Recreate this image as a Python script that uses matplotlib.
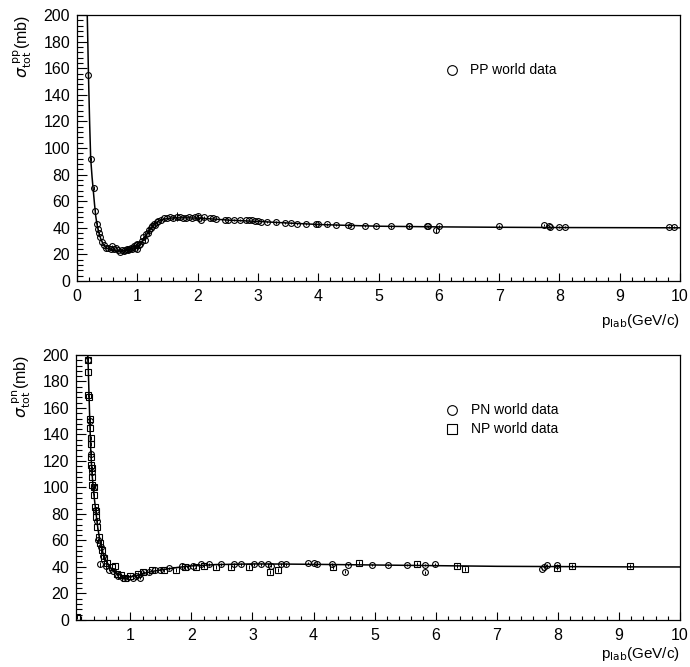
"""Total NN cross sections vs lab momentum: PP (top) and PN/NP (bottom)."""

import matplotlib
matplotlib.use("Agg")
import matplotlib.pyplot as plt
from matplotlib.ticker import MultipleLocator

plt.rcParams["font.family"] = ["Liberation Sans", "DejaVu Sans"]

# ---- PP world data (top panel) ----
pp_p = [0.19, 0.227, 0.285, 0.30, 0.33, 0.345, 0.36, 0.38, 0.42, 0.45, 0.48, 0.52,
        0.56, 0.58, 0.62, 0.65, 0.68, 0.72, 0.75, 0.78, 0.80, 0.83, 0.85, 0.87,
        0.90, 0.92, 0.94, 0.96, 0.98, 1.00, 1.00, 1.02, 1.05, 1.08, 1.10, 1.12,
        1.15, 1.18, 1.20, 1.22, 1.25, 1.27, 1.30, 1.32, 1.35, 1.40, 1.45, 1.50,
        1.55, 1.60, 1.65, 1.70, 1.75, 1.80, 1.85, 1.90, 1.95, 2.00, 2.02, 2.05,
        2.10, 2.20, 2.25, 2.30, 2.45, 2.50, 2.60, 2.70, 2.80, 2.85, 2.90, 2.95,
        3.00, 3.05, 3.15, 3.30, 3.45, 3.55, 3.65, 3.80, 3.97, 4.00, 4.15, 4.30,
        4.50, 4.55, 4.77, 4.95, 5.20, 5.50, 5.51, 5.80, 5.82, 5.96, 6.00, 7.00,
        7.75, 7.83, 7.85, 8.00, 8.10, 9.82, 9.90]
pp_sig = [155, 92, 70, 53, 43, 39, 36, 33, 29, 27, 25, 25,
          24, 26, 24, 25, 23, 22, 23, 22.5, 23, 24, 23, 24,
          25, 24, 26, 25, 27, 24, 28, 27, 28, 30, 33, 31,
          35, 36, 38, 40, 41, 43, 42, 44, 45, 46, 47, 47.5,
          48, 47, 48.5, 48, 47.5, 47, 48, 47.5, 48, 49, 47, 46,
          48, 47, 47, 46.5, 46, 45.5, 46, 46, 45.5, 46, 45.5, 45,
          45, 44.5, 44.5, 44, 43.5, 43.5, 43, 43, 42.5, 43, 42.5, 42,
          42, 41.5, 41.5, 41.5, 41, 41, 41.5, 41.5, 41, 38, 41, 41,
          42, 41, 40.5, 40.5, 40.5, 40.5, 40.3]
pp_err = [1.5, 1.5, 1.5, 1, 1, 1, 1, 1, 1, 1, 1, 1,
          1, 1, 1, 1, 1, 1, 1, 1, 1, 1, 1, 1,
          1, 1, 1.5, 1, 1, 1.5, 1, 1, 1, 1.5, 1, 2,
          1, 1, 3, 1, 1, 1, 1, 1, 1, 1, 1, 1,
          1, 1, 3.5, 1, 1, 1, 1, 1, 1, 1.5, 1, 1,
          1, 1, 0.8, 0.8, 0.8, 0.8, 0.8, 0.8, 0.8, 0.8, 0.8, 0.8,
          0.8, 0.8, 0.8, 0.8, 0.8, 0.8, 0.8, 0.8, 0.8, 0.8, 0.8, 0.8,
          0.8, 0.8, 0.8, 0.8, 0.8, 0.8, 0.8, 0.8, 0.8, 2, 0.8, 0.8,
          0.8, 0.8, 0.8, 0.8, 0.8, 0.8, 0.8]

# fitted curve through PP data
pp_fit_p = [0.17, 0.18, 0.19, 0.21, 0.227, 0.25, 0.27, 0.29, 0.31, 0.33, 0.35,
            0.37, 0.40, 0.43, 0.46, 0.50, 0.55, 0.60, 0.70, 0.80, 0.90, 1.00,
            1.05, 1.10, 1.15, 1.20, 1.25, 1.30, 1.35, 1.40, 1.50, 1.60, 1.80,
            2.00, 2.20, 2.50, 3.00, 3.50, 4.00, 4.50, 5.0, 6.0, 7.0, 8.0, 9.0, 10.0]
pp_fit_sig = [200, 178, 155, 118, 92, 78, 68, 58, 49, 43, 38.5,
              35, 31, 28, 26, 24.5, 23.5, 22.8, 22.5, 23, 24, 26,
              28, 31, 34.5, 38, 41, 43.5, 45, 46, 47, 47.5, 47.5,
              47.3, 46.8, 45.8, 44.8, 43.6, 42.5, 41.8, 41.2, 40.7, 40.4, 40.2, 40.1, 40]

# ---- PN / NP world data (bottom panel) ----
pn_p = [0.31, 0.34, 0.36, 0.38, 0.41, 0.43, 0.45, 0.47, 0.50, 0.52, 0.56, 0.60,
        0.65, 0.72, 0.80, 0.88, 0.95, 1.05, 1.10, 1.16, 1.23, 1.30, 1.41, 1.49,
        1.63, 1.85, 1.93, 2.02, 2.15, 2.29, 2.48, 2.70, 2.81, 3.03, 3.14, 3.25,
        3.30, 3.47, 3.55, 3.91, 4.00, 4.05, 4.30, 4.52, 4.57, 4.96, 5.22, 5.53,
        5.83, 5.83, 5.99, 7.74, 7.77, 7.82, 7.99]
pn_sig = [196, 150, 125, 112, 100, 83, 75, 60, 42, 55, 48, 41,
          38, 37, 33, 32, 32, 32, 33, 32, 36, 36, 38, 38,
          39, 41, 40, 41, 42, 42, 42, 42, 42, 42, 42, 42,
          41, 42, 42, 43, 43, 42, 42, 36.5, 41.5, 41.5, 41.5, 41.5,
          41.5, 36, 42, 38.5, 40, 41.5, 41.5]
pn_err = [3, 3, 3, 3, 3, 2, 2, 2, 2, 5, 2, 4,
          1, 1, 1, 1, 1, 1, 1, 1, 1, 1, 1, 1,
          1, 1, 1, 1, 1, 1, 1, 1, 1, 1, 1, 1,
          1, 1, 1, 1, 1, 1, 1, 1, 1, 1, 1, 1,
          1, 1, 1, 1, 1, 1, 1]

np_p = [0.13, 0.31, 0.31, 0.30, 0.32, 0.34, 0.34, 0.35, 0.35, 0.36, 0.36, 0.37,
        0.37, 0.38, 0.41, 0.41, 0.42, 0.43, 0.44, 0.46, 0.48, 0.50, 0.54, 0.57,
        0.62, 0.70, 0.75, 0.78, 0.85, 0.92, 1.00, 1.12, 1.20, 1.35, 1.55, 1.74,
        1.90, 2.07, 2.21, 2.40, 2.65, 2.95, 3.28, 3.42, 4.32, 4.75, 5.70, 6.35,
        6.48, 7.99, 8.23, 9.18]
np_sig = [2, 196, 187, 170, 168, 152, 145, 137, 133, 123, 117, 115,
          108, 102, 100, 94, 85, 82, 78, 70, 63, 58, 53, 47,
          43, 40, 41, 34.5, 34, 32, 33, 35, 36, 38, 38, 38,
          40, 40, 41, 40, 40, 40, 36, 38, 40, 43, 42, 40.5,
          38.6, 39, 41, 40.5]

pn_fit_p = [0.30, 0.31, 0.33, 0.35, 0.37, 0.40, 0.43, 0.46, 0.50, 0.55, 0.60,
            0.65, 0.70, 0.80, 0.90, 1.00, 1.10, 1.20, 1.40, 1.60, 1.80, 2.00,
            2.40, 3.00, 3.50, 4.00, 5.0, 6.0, 7.0, 8.0, 9.0, 10.0]
pn_fit_sig = [200, 192, 160, 130, 112, 96, 84, 72, 60, 51, 45,
              41, 38, 34.5, 33, 32.5, 33.5, 35, 37, 38.5, 39.8, 40.8,
              41.8, 42.3, 42.2, 42, 41.5, 41, 40.5, 40.3, 40.1, 40]

X_LABEL = r"p$_{\rm lab}$(GeV/c)"


def style_axes(ax, xmin, xlabel_y):
    ax.set_xlim(xmin, 10)
    ax.set_ylim(0, 200)
    ax.xaxis.set_major_locator(MultipleLocator(1))
    ax.xaxis.set_minor_locator(MultipleLocator(0.2))
    ax.yaxis.set_major_locator(MultipleLocator(20))
    ax.yaxis.set_minor_locator(MultipleLocator(4))
    ax.tick_params(axis="both", which="both", direction="in", top=False, right=False,
                   labelsize=11.5, width=0.8)
    ax.tick_params(axis="x", which="major", length=6, pad=6)
    ax.tick_params(axis="x", which="minor", length=3)
    ax.tick_params(axis="y", which="major", length=7, pad=5)
    ax.tick_params(axis="y", which="minor", length=4)
    for sp in ax.spines.values():
        sp.set_linewidth(0.9)
    ax.text(1.0, xlabel_y, X_LABEL, transform=ax.transAxes, ha="right", va="center",
            fontsize=11)


fig = plt.figure(figsize=(6.9, 6.67), dpi=100)
ax1 = fig.add_axes([0.1116, 0.5787, 0.874, 0.3988])
ax2 = fig.add_axes([0.1101, 0.0705, 0.8754, 0.3973])

mk = dict(fillstyle="none", color="black", markersize=4.2, markeredgewidth=0.8,
          linestyle="none", elinewidth=0.7, capsize=0)

# top panel
ax1.plot(pp_fit_p, pp_fit_sig, color="black", lw=1.1)
ax1.errorbar(pp_p, pp_sig, yerr=pp_err, marker="o", **mk)
style_axes(ax1, 0, -0.15)
ax1.text(-0.09, 1.0, r"$\sigma_{\rm tot}^{\rm \ pp}$(mb)", transform=ax1.transAxes,
         rotation=90, ha="center", va="top", fontsize=11.5)
ax1.plot([6.22], [159], marker="o", fillstyle="none", color="black",
         markersize=7, markeredgewidth=0.8, linestyle="none")
ax1.text(6.52, 159, "PP world data", ha="left", va="center", fontsize=10)

# bottom panel
ax2.plot(pn_fit_p, pn_fit_sig, color="black", lw=1.1)
ax2.errorbar(np_p, np_sig, yerr=[1.5] * len(np_p), marker="s", **mk)
ax2.errorbar(pn_p, pn_sig, yerr=pn_err, marker="o", **mk)
style_axes(ax2, 0.11, -0.128)
ax2.text(-0.09, 1.0, r"$\sigma_{\rm tot}^{\rm \ pn}$(mb)", transform=ax2.transAxes,
         rotation=90, ha="center", va="top", fontsize=11.5)
ax2.plot([6.27], [158.5], marker="o", fillstyle="none", color="black",
         markersize=7, markeredgewidth=0.8, linestyle="none")
ax2.plot([6.27], [144], marker="s", fillstyle="none", color="black",
         markersize=7, markeredgewidth=0.8, linestyle="none")
ax2.text(6.57, 158.5, "PN world data", ha="left", va="center", fontsize=10)
ax2.text(6.57, 144, "NP world data", ha="left", va="center", fontsize=10)

fig.savefig("out.png", dpi=100)
plt.close(fig)
